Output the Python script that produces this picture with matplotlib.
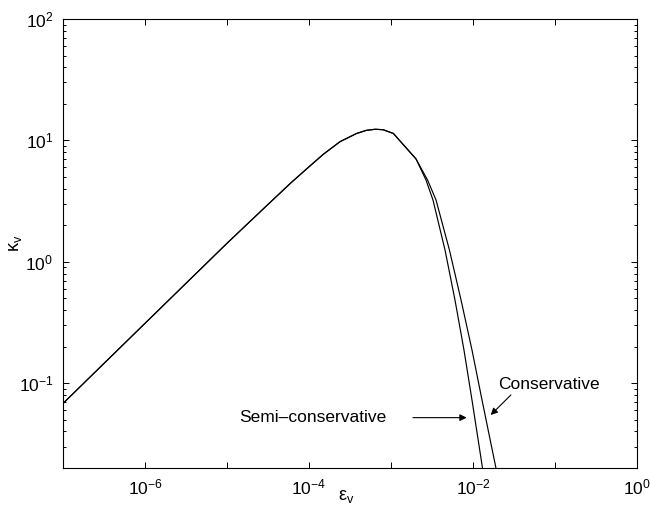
import matplotlib
matplotlib.use('Agg')
import matplotlib.pyplot as plt
from matplotlib.ticker import FixedLocator, FuncFormatter, LogLocator, NullFormatter
import numpy as np

plt.rcParams['font.family'] = ['Liberation Sans', 'DejaVu Sans']
plt.rcParams['mathtext.fontset'] = 'custom'
plt.rcParams['mathtext.rm'] = 'Liberation Sans'
plt.rcParams['mathtext.it'] = 'Liberation Sans:italic'
plt.rcParams['mathtext.bf'] = 'Liberation Sans:bold'

# shared rising branch (both schemes coincide here)
eps_rise = [1e-7, 1e-6, 1e-5, 3e-5, 6e-5, 1e-4, 1.5e-4, 2.39e-4, 3.8e-4,
            5e-4, 6.4e-4, 8e-4, 1.07e-3, 2.02e-3]
kappa_rise = [0.068, 0.311, 1.42, 2.87, 4.46, 6.06, 7.7, 9.76, 11.4,
              12.1, 12.35, 12.25, 11.4, 7.03]

# falling tails
eps_semi = [2.67e-3, 3.25e-3, 4.56e-3, 6.03e-3, 7.76e-3, 9.72e-3, 1.306e-2, 1.44e-2]
kappa_semi = [4.72, 3.23, 1.25, 0.484, 0.1876, 0.0727, 0.020, 0.0132]

eps_cons = [2.79e-3, 3.54e-3, 5.16e-3, 7.15e-3, 9.72e-3, 1.288e-2, 1.905e-2, 2.13e-2]
kappa_cons = [4.72, 3.23, 1.25, 0.484, 0.1876, 0.0727, 0.020, 0.0132]

x_decades = list(range(-7, 1))

fig = plt.figure(figsize=(6.5, 5.07), dpi=100)
ax = fig.add_axes([0.0969, 0.0769, 0.8831, 0.8856])

ax.loglog(eps_rise + eps_semi, kappa_rise + kappa_semi, color='black', lw=0.85)
ax.loglog(eps_rise + eps_cons, kappa_rise + kappa_cons, color='black', lw=0.85)

ax.set_xlim(1e-7, 1e0)
ax.set_ylim(2e-2, 1e2)

ax.xaxis.set_major_locator(FixedLocator([10.0 ** k for k in x_decades]))
ax.xaxis.set_minor_locator(FixedLocator([]))
ax.xaxis.set_major_formatter(FuncFormatter(
    lambda v, p: r'$\mathdefault{10^{%d}}$' % round(np.log10(v)) if round(np.log10(v)) % 2 == 0 else ''))
ax.yaxis.set_major_locator(LogLocator(base=10, numticks=10))
ax.yaxis.set_minor_locator(LogLocator(base=10, subs=np.arange(2, 10), numticks=20))
ax.yaxis.set_minor_formatter(NullFormatter())

ax.tick_params(which='both', direction='in', top=True, right=True, width=0.7, labelsize=12.5)
ax.tick_params(which='major', length=4.5, pad=7)
ax.tick_params(which='minor', length=2.5)
for s in ax.spines.values():
    s.set_linewidth(0.8)

ax.set_ylabel(r'$\mathrm{\kappa_v}$', fontsize=13)
ax.yaxis.set_label_coords(-0.068, 0.5)
ax.set_xlabel(r'$\mathrm{\varepsilon_v}$', fontsize=13)
ax.xaxis.set_label_coords(0.493, -0.045)

ax.annotate('', xy=(8.37e-3, 0.052), xytext=(1.85e-3, 0.052),
            arrowprops=dict(arrowstyle='-|>', color='black', lw=0.8, mutation_scale=10,
                            shrinkA=0, shrinkB=0))
ax.text(8.69e-4, 0.052, 'Semi\u2013conservative', ha='right', va='center', fontsize=12.5)

ax.annotate('', xy=(0.01644, 0.0547), xytext=(0.029, 0.080),
            arrowprops=dict(arrowstyle='-|>', color='black', lw=0.8, mutation_scale=10,
                            shrinkA=0, shrinkB=0))
ax.text(0.0202, 0.0966, 'Conservative', ha='left', va='center', fontsize=12.5)

fig.savefig('out.png', dpi=100)
